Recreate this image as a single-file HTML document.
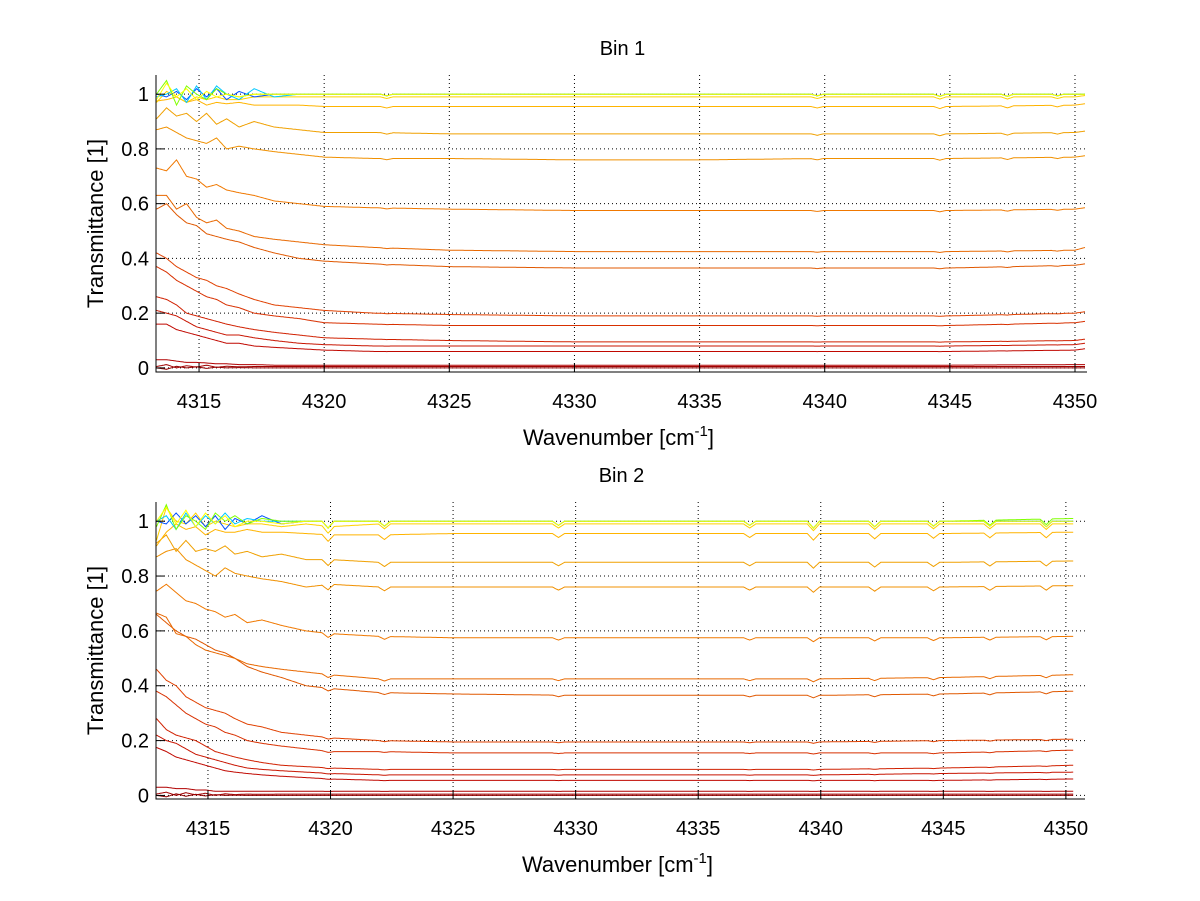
<!DOCTYPE html>
<html><head><meta charset="utf-8">
<style>
body{margin:0;background:#fff;}
svg{display:block;font-family:"Liberation Sans",sans-serif;}
</style></head>
<body>
<svg id="fig" width="1200" height="901" viewBox="0 0 1200 901">
<rect width="1200" height="901" fill="#fff"/>
</svg>
<script>
// ---------- data ----------
const xTicks = [4315,4320,4325,4330,4335,4340,4345,4350];
const yTicks = [0,0.2,0.4,0.6,0.8,1];
const yTickLabels = ["0","0.2","0.4","0.6","0.8","1"];
const seriesColors = ["#ffff00","#80ff00","#00c8ff","#0050ff","#ffd000","#ffb400","#f0a000","#f09000","#f07800","#e86800","#e05800","#e04000","#d83000","#d02000","#c81400","#c00800","#b00000","#a00000","#900000"];

const knotsTop = [4313.3,4313.7,4314.1,4314.5,4314.9,4315.3,4315.7,4316.1,4316.6,4317.2,4318,4319,4320,4322,4325,4330,4335,4340,4345,4350,4350.4];
const top1 = [0.98,1.04,0.99,1.02,0.98,1.01,0.99,1.0,0.99,1.0,1.0,1.0,1.0,1.0,1.0,1.0,1.0,1.0,1.0,1.0,1.0];
const top2 = [1.0,1.05,0.96,1.03,1.0,0.98,1.02,1.0,0.99,1.0,1.0,1.0,1.0,1.0,1.0,1.0,1.0,1.0,1.0,1.0,1.0];
const top3 = [0.99,1.0,1.02,0.97,1.03,0.98,1.03,1.0,0.98,1.02,0.99,1.0,1.0,1.0,1.0,1.0,1.0,1.0,1.0,1.0,1.0];
const top4 = [1.0,0.99,1.01,0.98,1.02,0.99,1.02,0.98,1.01,0.99,1.0,1.0,1.0,1.0,1.0,1.0,1.0,1.0,1.0,1.0,1.0];
const top5 = [0.97,1.01,0.99,0.97,0.99,0.98,0.99,0.98,0.98,0.99,0.99,0.99,0.99,0.99,0.99,0.99,0.99,0.99,0.99,0.99,0.995];
const top6 = [0.975,0.98,0.99,0.97,0.98,0.96,0.97,0.965,0.97,0.96,0.96,0.96,0.955,0.955,0.955,0.955,0.955,0.955,0.955,0.96,0.965];
const top7 = [0.91,0.95,0.92,0.93,0.90,0.93,0.89,0.91,0.88,0.90,0.88,0.87,0.86,0.86,0.855,0.855,0.855,0.855,0.855,0.86,0.865];
const top8 = [0.87,0.88,0.86,0.84,0.83,0.82,0.84,0.80,0.81,0.80,0.79,0.78,0.77,0.765,0.765,0.76,0.76,0.765,0.765,0.77,0.775];
const top9 = [0.73,0.72,0.76,0.70,0.69,0.66,0.67,0.65,0.64,0.63,0.61,0.60,0.59,0.585,0.58,0.575,0.575,0.575,0.575,0.58,0.585];
const top10 = [0.63,0.63,0.58,0.60,0.55,0.53,0.54,0.51,0.50,0.48,0.47,0.46,0.45,0.44,0.43,0.425,0.425,0.425,0.425,0.43,0.44];
const top11 = [0.58,0.60,0.56,0.53,0.52,0.49,0.48,0.47,0.46,0.44,0.42,0.40,0.39,0.38,0.37,0.365,0.365,0.365,0.365,0.375,0.38];
const top12 = [0.42,0.40,0.37,0.35,0.33,0.32,0.30,0.29,0.27,0.25,0.23,0.22,0.21,0.20,0.195,0.19,0.19,0.19,0.19,0.20,0.205];
const top13 = [0.37,0.35,0.32,0.30,0.28,0.26,0.25,0.23,0.22,0.20,0.19,0.18,0.165,0.16,0.155,0.155,0.155,0.155,0.155,0.165,0.17];
const top14 = [0.26,0.25,0.23,0.20,0.19,0.18,0.17,0.16,0.15,0.14,0.13,0.12,0.11,0.105,0.10,0.095,0.095,0.095,0.095,0.10,0.105];
const top15 = [0.21,0.20,0.19,0.17,0.15,0.14,0.13,0.12,0.12,0.11,0.10,0.09,0.085,0.08,0.08,0.08,0.08,0.08,0.08,0.085,0.09];
const top16 = [0.16,0.16,0.14,0.13,0.12,0.11,0.10,0.09,0.09,0.08,0.075,0.07,0.065,0.06,0.06,0.06,0.06,0.06,0.06,0.065,0.07];
const top17 = [0.03,0.03,0.025,0.02,0.02,0.018,0.015,0.015,0.012,0.012,0.01,0.01,0.01,0.01,0.01,0.01,0.01,0.01,0.01,0.012,0.012];
const top18 = [0.005,0.012,0.0,0.008,0.003,0.01,0.002,0.006,0.004,0.005,0.005,0.005,0.005,0.005,0.005,0.005,0.005,0.005,0.005,0.005,0.005];
const top19 = [0.0,-0.005,0.006,0.0,0.004,-0.002,0.003,0.0,0.001,0.0,0.0,0.0,0.0,0.0,0.0,0.0,0.0,0.0,0.0,0.0,0.0];

const knotsBot = [4312.9,4313.3,4313.7,4314.1,4314.5,4314.9,4315.3,4315.7,4316.1,4316.6,4317.2,4318,4319,4320,4322,4325,4330,4335,4340,4345,4350.3];
const bot1 = [1.0,1.05,0.99,1.04,0.98,1.03,0.99,1.02,0.98,1.0,1.0,0.99,1.0,1.0,1.0,1.0,1.0,1.0,1.0,1.0,1.0];
const bot2 = [0.98,1.06,0.97,1.02,1.0,0.97,1.03,1.0,1.02,0.99,1.01,1.0,1.0,1.0,1.0,1.0,1.0,1.0,1.0,1.0,1.01];
const bot3 = [1.0,1.02,0.97,1.03,0.98,1.02,0.99,1.03,0.99,1.01,1.0,1.0,1.0,1.0,1.0,1.0,1.0,1.0,1.0,1.0,1.0];
const bot4 = [1.0,0.99,1.03,0.99,1.02,0.98,1.02,0.97,1.01,0.99,1.02,0.99,1.0,1.0,1.0,1.0,1.0,1.0,1.0,1.0,1.0];
const bot5 = [0.93,1.05,1.0,0.99,1.03,0.98,1.0,0.99,0.98,0.99,0.99,0.98,0.99,0.98,0.99,0.99,0.99,0.99,0.99,0.99,0.99];
const bot6 = [0.91,0.96,0.99,0.97,0.98,0.95,0.97,0.96,0.96,0.97,0.96,0.96,0.955,0.95,0.95,0.955,0.955,0.955,0.955,0.955,0.96];
const bot7 = [0.92,0.95,0.89,0.93,0.89,0.90,0.89,0.91,0.88,0.89,0.87,0.88,0.86,0.86,0.85,0.85,0.85,0.85,0.85,0.85,0.855];
const bot8 = [0.87,0.89,0.90,0.86,0.84,0.82,0.80,0.83,0.81,0.80,0.79,0.78,0.76,0.77,0.76,0.76,0.76,0.76,0.76,0.76,0.765];
const bot9 = [0.745,0.77,0.74,0.71,0.70,0.68,0.67,0.65,0.66,0.63,0.64,0.62,0.60,0.59,0.58,0.575,0.575,0.575,0.575,0.575,0.58];
const bot10 = [0.665,0.65,0.59,0.58,0.55,0.53,0.52,0.51,0.50,0.48,0.47,0.46,0.45,0.44,0.425,0.425,0.425,0.425,0.425,0.43,0.44];
const bot11 = [0.66,0.63,0.60,0.58,0.57,0.55,0.53,0.52,0.50,0.47,0.45,0.43,0.40,0.39,0.375,0.37,0.365,0.365,0.365,0.37,0.38];
const bot12 = [0.46,0.42,0.40,0.36,0.34,0.32,0.31,0.30,0.28,0.26,0.25,0.23,0.22,0.21,0.20,0.195,0.195,0.195,0.195,0.20,0.205];
const bot13 = [0.38,0.36,0.33,0.30,0.28,0.26,0.25,0.23,0.22,0.20,0.19,0.18,0.17,0.16,0.16,0.155,0.155,0.155,0.155,0.155,0.165];
const bot14 = [0.28,0.24,0.22,0.21,0.20,0.18,0.16,0.15,0.14,0.13,0.12,0.11,0.105,0.10,0.095,0.095,0.095,0.095,0.095,0.10,0.11];
const bot15 = [0.22,0.20,0.19,0.17,0.15,0.14,0.13,0.12,0.11,0.10,0.095,0.09,0.085,0.08,0.075,0.075,0.075,0.075,0.075,0.08,0.085];
const bot16 = [0.175,0.16,0.14,0.13,0.12,0.11,0.10,0.09,0.085,0.08,0.075,0.07,0.065,0.06,0.055,0.055,0.055,0.055,0.055,0.055,0.06];
const bot17 = [0.03,0.03,0.025,0.025,0.02,0.02,0.015,0.015,0.015,0.015,0.015,0.015,0.015,0.015,0.015,0.015,0.015,0.015,0.015,0.015,0.015];
const bot18 = [0.005,0.012,0.0,0.01,0.002,0.008,0.0,0.006,0.003,0.005,0.004,0.005,0.005,0.005,0.005,0.005,0.005,0.005,0.005,0.005,0.005];
const bot19 = [0.0,-0.005,0.006,-0.003,0.004,-0.002,0.003,0.0,0.001,0.0,0.0,0.0,0.0,0.0,0.0,0.0,0.0,0.0,0.0,0.0,0.0];

const dipPositionsBot = [4319.9,4322.2,4329.3,4337.1,4339.7,4342.2,4344.6,4346.9,4349.2];
const dipDepthsBot = [0.025,0.018,0.015,0.015,0.025,0.02,0.018,0.018,0.02];
const dipPositionsTop = [4322.5,4339.7,4344.6,4347.3,4349.3];
const dipDepthsTop = [0.006,0.006,0.008,0.008,0.006];

const topSeries = [top19,top18,top17,top16,top15,top14,top13,top12,top11,top10,top9,top8,top7,top6,top5,top4,top3,top2,top1];
const botSeries = [bot19,bot18,bot17,bot16,bot15,bot14,bot13,bot12,bot11,bot10,bot9,bot8,bot7,bot6,bot5,bot4,bot3,bot2,bot1];

// ---------- drawing ----------
const NS="http://www.w3.org/2000/svg";
const svg=document.getElementById('fig');
function mk(tag,attrs,parent){const e=document.createElementNS(NS,tag);for(const k in attrs)e.setAttribute(k,attrs[k]);(parent||svg).appendChild(e);return e;}

function interp(knots,vals,x){
  if(x<=knots[0])return vals[0];
  for(let i=1;i<knots.length;i++){if(x<=knots[i]){const t=(x-knots[i-1])/(knots[i]-knots[i-1]);return vals[i-1]+t*(vals[i]-vals[i-1]);}}
  return vals[vals.length-1];
}

function drawPanel(cfg){
  const g=mk('g',{});
  
  
  const X=v=>cfg.L+(v-cfg.x0)/(cfg.x1-cfg.x0)*(cfg.R-cfg.L);
  const Y=v=>cfg.B-(v-cfg.y0)/(cfg.y1-cfg.y0)*(cfg.B-cfg.T);
  xTicks.forEach(t=>{const l=mk('line',{x1:X(t),x2:X(t),y1:cfg.T,y2:cfg.B,stroke:'#000','stroke-width':1,'stroke-dasharray':'1,3'},g);
    });
  yTicks.forEach(t=>{const l=mk('line',{x1:cfg.L,x2:cfg.R,y1:Y(t),y2:Y(t),stroke:'#000','stroke-width':1,'stroke-dasharray':'1,3'},g);
    });
  cfg.series.forEach((s,i)=>{
    let d='';
    const xEnd=cfg.knots[cfg.knots.length-1];
    for(let x=cfg.knots[0];x<=xEnd+1e-9;x+=0.05){
      let v=interp(cfg.knots,s,x);
      cfg.dipPos.forEach((p,j)=>{const w=Math.abs(x-p);if(w<0.25)v*=1-cfg.dipDep[j]*(1-w/0.25);});
      d+=(d?'L':'M')+X(x).toFixed(1)+','+Y(v).toFixed(1);
    }
    const p=mk('path',{d:d,fill:'none',stroke:seriesColors[seriesColors.length-1-i],'stroke-width':1},g);
    
    
  });
  const ax=mk('path',{d:`M${cfg.L},${cfg.T}V${cfg.B}H${cfg.R}`,fill:'none',stroke:'#000','stroke-width':1},g);
  
  xTicks.forEach(t=>{mk('line',{x1:X(t),x2:X(t),y1:cfg.B,y2:cfg.B-9,stroke:'#000'},g);
    const tx=mk('text',{x:X(t),y:cfg.B+36,'text-anchor':'middle','font-size':20},g);tx.textContent=t;
    });
  yTicks.forEach((t,i)=>{mk('line',{x1:cfg.L,x2:cfg.L+9,y1:Y(t),y2:Y(t),stroke:'#000'},g);
    const tx=mk('text',{x:cfg.L-7,y:Y(t)+7,'text-anchor':'end','font-size':20},g);tx.textContent=yTickLabels[i];
    });
  const ti=mk('text',{x:(cfg.L+cfg.R)/2+1,y:cfg.T-20,'text-anchor':'middle','font-size':20},g);ti.textContent=cfg.title;
  
  const yl=mk('text',{x:0,y:0,'text-anchor':'middle','font-size':22,transform:`translate(103,${(cfg.T+cfg.B)/2}) rotate(-90)`},g);yl.textContent='Transmittance [1]';
  
  const xl=mk('text',{x:(cfg.L+cfg.R)/2-3,y:cfg.B+73,'text-anchor':'middle','font-size':22},g);
  xl.innerHTML='Wavenumber [cm<tspan dy="-9" font-size="15">-1</tspan><tspan dy="9">]</tspan>';
  
}

drawPanel({name:'bin1-panel',title:'Bin 1',L:156,R:1087,T:75,B:372,x0:4313.28,x1:4350.48,y0:-0.015,y1:1.07,knots:knotsTop,series:topSeries,dipPos:dipPositionsTop,dipDep:dipDepthsTop});
drawPanel({name:'bin2-panel',title:'Bin 2',L:156,R:1085,T:502,B:799,x0:4312.88,x1:4350.78,y0:-0.013,y1:1.07,knots:knotsBot,series:botSeries,dipPos:dipPositionsBot,dipDep:dipDepthsBot});
</script>
</body></html>
